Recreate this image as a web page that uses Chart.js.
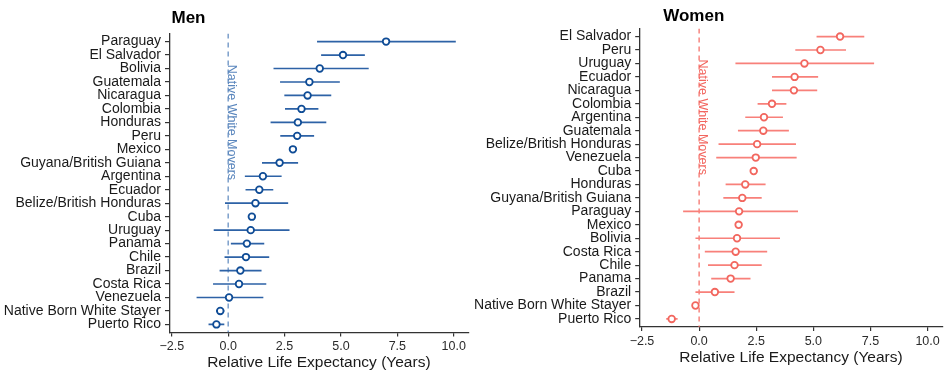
<!DOCTYPE html>
<html>
<head>
<meta charset="utf-8">
<script src="https://cdn.jsdelivr.net/npm/chart.js@4.4.1/dist/chart.umd.min.js"></script>
<style>
  html, body { margin: 0; padding: 0; background: #ffffff; }
  #wrap { position: relative; width: 948px; height: 372px; overflow: hidden; }
  .panel { position: absolute; top: 0; width: 474px; height: 372px; }
</style>
</head>
<body>
<div id="wrap">
  <div class="panel" style="left:0"><canvas id="men" width="474" height="372"></canvas></div>
  <div class="panel" style="left:474px"><canvas id="women" width="474" height="372"></canvas></div>
</div>
<script>
// Relative life expectancy (years) by birthplace, with 95% intervals
const menCountries = ["Paraguay", "El Salvador", "Bolivia", "Guatemala", "Nicaragua", "Colombia",
  "Honduras", "Peru", "Mexico", "Guyana/British Guiana", "Argentina", "Ecuador",
  "Belize/British Honduras", "Cuba", "Uruguay", "Panama", "Chile", "Brazil", "Costa Rica",
  "Venezuela", "Native Born White Stayer", "Puerto Rico"];
const menEstimate = [7.00, 5.09, 4.06, 3.60, 3.52, 3.25, 3.09, 3.06, 2.87, 2.28, 1.54, 1.38,
  1.21, 1.05, 1.00, 0.83, 0.79, 0.54, 0.48, 0.04, -0.35, -0.52];
const menLower = [3.94, 4.12, 2.01, 2.30, 2.49, 2.52, 1.88, 2.31, 2.72, 1.50, 0.74, 0.77,
  -0.14, 0.89, -0.64, 0.12, -0.16, -0.38, -0.67, -1.40, -0.54, -0.87];
const menUpper = [10.09, 6.06, 6.23, 4.95, 4.57, 4.00, 4.35, 3.81, 3.03, 3.10, 2.37, 2.00,
  2.66, 1.21, 2.72, 1.60, 1.82, 1.48, 1.69, 1.56, -0.17, -0.17];

const womenCountries = ["El Salvador", "Peru", "Uruguay", "Ecuador", "Nicaragua", "Colombia",
  "Argentina", "Guatemala", "Belize/British Honduras", "Venezuela", "Cuba", "Honduras",
  "Guyana/British Guiana", "Paraguay", "Mexico", "Bolivia", "Costa Rica", "Chile", "Panama",
  "Brazil", "Native Born White Stayer", "Puerto Rico"];
const womenEstimate = [6.17, 5.31, 4.61, 4.18, 4.15, 3.19, 2.84, 2.81, 2.54, 2.48, 2.39, 2.02,
  1.89, 1.75, 1.73, 1.66, 1.60, 1.55, 1.38, 0.69, -0.16, -1.20];
const womenLower = [5.14, 4.21, 1.59, 3.19, 3.19, 2.56, 2.02, 1.70, 0.85, 0.75, 2.25, 1.16,
  1.06, -0.70, 1.59, -0.16, 0.25, 0.39, 0.53, -0.16, -0.23, -1.44];
const womenUpper = [7.23, 6.43, 7.66, 5.21, 5.17, 3.82, 3.67, 3.93, 4.24, 4.27, 2.55, 2.91,
  2.74, 4.33, 1.88, 3.54, 2.98, 2.74, 2.25, 1.55, -0.09, -0.94];

const xTickValues = [-2.5, 0, 2.5, 5, 7.5, 10];
const xLimits = [-2.6, 10.64];
const referenceLabel = "Native White Movers";
const axisTitle = "Relative Life Expectancy (Years)";

const FONT = "'Liberation Sans', Arial, Helvetica, sans-serif";

function fmtTick(v) {
  return (v < 0 ? "\u2212" : "") + Math.abs(v).toFixed(1);
}

function buildPanel(canvasId, opt) {
  const n = opt.countries.length;

  const points = opt.estimate.map((v, i) => ({ x: v, y: i }));
  const intervals = [];
  opt.lower.forEach((lo, i) => {
    intervals.push({ x: lo, y: i }, { x: opt.upper[i], y: i }, { x: null, y: null });
  });
  const refLine = [{ x: 0, y: -0.6 }, { x: 0, y: n - 0.4 }];

  // panel title and the rotated label beside the zero line
  const decorations = {
    id: "decorations_" + canvasId,
    afterDatasetsDraw(chart) {
      const { ctx, scales } = chart;
      ctx.save();
      const x0 = scales.x.getPixelForValue(0);
      const yc = scales.y.getPixelForValue(opt.refLabelAt);
      ctx.translate(x0, yc);
      ctx.rotate(Math.PI / 2);
      ctx.font = "12.5px " + FONT;
      ctx.fillStyle = opt.refTextColor;
      ctx.textAlign = "center";
      ctx.textBaseline = "alphabetic";
      ctx.fillText(referenceLabel, 0, 0);
      ctx.restore();
    },
    afterDraw(chart) {
      const { ctx, chartArea } = chart;
      ctx.save();
      ctx.font = "bold 17px " + FONT;
      ctx.fillStyle = "#000000";
      ctx.textAlign = "left";
      ctx.textBaseline = "alphabetic";
      ctx.fillText(opt.title, chartArea.left + opt.titleOffset, opt.titleBaseline);
      ctx.restore();
    }
  };

  return new Chart(document.getElementById(canvasId), {
    type: "scatter",
    data: {
      datasets: [
        {
          data: points,
          order: 0,
          showLine: false,
          pointStyle: "circle",
          pointRadius: 3.3,
          pointBorderWidth: 1.8,
          pointBorderColor: opt.pointColor,
          pointBackgroundColor: "#ffffff"
        },
        {
          data: intervals,
          order: 1,
          showLine: true,
          spanGaps: false,
          borderColor: opt.lineColor,
          borderWidth: 1.7,
          pointRadius: 0,
          borderCapStyle: "butt"
        },
        {
          data: refLine,
          order: 2,
          showLine: true,
          borderColor: opt.refColor,
          borderWidth: 1.2,
          borderDash: [5, 4],
          pointRadius: 0
        }
      ]
    },
    options: {
      responsive: false,
      animation: false,
      devicePixelRatio: 1,
      layout: { padding: opt.padding },
      plugins: {
        legend: { display: false },
        tooltip: { enabled: false },
        title: { display: false }
      },
      scales: {
        x: {
          type: "linear",
          min: xLimits[0],
          max: xLimits[1],
          afterBuildTicks(axis) { axis.ticks = xTickValues.map(v => ({ value: v })); },
          afterFit(axis) { axis.height = opt.xAxisHeight; },
          ticks: {
            autoSkip: false,
            maxRotation: 0,
            padding: 3,
            color: "#2b2b2b",
            font: { family: FONT, size: 12.5 },
            callback: v => fmtTick(v)
          },
          grid: {
            display: true,
            drawOnChartArea: false,
            drawTicks: true,
            tickLength: 4,
            color: "#333333",
            lineWidth: 1.2
          },
          border: { display: true, color: "#333333", width: 1.3 },
          title: {
            display: true,
            text: axisTitle,
            color: "#1a1a1a",
            font: { family: FONT, size: 15.5 },
            padding: { top: 0, bottom: 0 }
          }
        },
        y: {
          type: "linear",
          reverse: true,
          min: -0.6,
          max: n - 0.4,
          afterBuildTicks(axis) { axis.ticks = opt.countries.map((_, i) => ({ value: i })); },
          afterFit(axis) { axis.width = opt.yAxisWidth; },
          ticks: {
            autoSkip: false,
            padding: 4,
            color: "#1a1a1a",
            font: { family: FONT, size: 14 },
            callback: v => opt.countries[v]
          },
          grid: {
            display: true,
            drawOnChartArea: false,
            drawTicks: true,
            tickLength: 4.5,
            color: "#333333",
            lineWidth: 1.2
          },
          border: { display: true, color: "#333333", width: 1.3 }
        }
      }
    },
    plugins: [decorations]
  });
}

buildPanel("men", {
  title: "Men",
  titleOffset: 2,
  titleBaseline: 22.7,
  countries: menCountries,
  estimate: menEstimate,
  lower: menLower,
  upper: menUpper,
  pointColor: "#0f4c96",
  lineColor: "#2d62a6",
  refColor: "#5a86bd",
  refTextColor: "#5a86bd",
  refLabelAt: 6,
  padding: { left: 0, right: 2, top: 33.5, bottom: 0 },
  yAxisWidth: 169.5,
  xAxisHeight: 39.5
});

buildPanel("women", {
  title: "Women",
  titleOffset: 23.5,
  titleBaseline: 20.7,
  countries: womenCountries,
  estimate: womenEstimate,
  lower: womenLower,
  upper: womenUpper,
  pointColor: "#f2675f",
  lineColor: "#f8807a",
  refColor: "#f4665f",
  refTextColor: "#f2665f",
  refLabelAt: 6,
  padding: { left: 0, right: 0, top: 28.5, bottom: 5 },
  yAxisWidth: 165.7,
  xAxisHeight: 40
});
</script>
</body>
</html>
